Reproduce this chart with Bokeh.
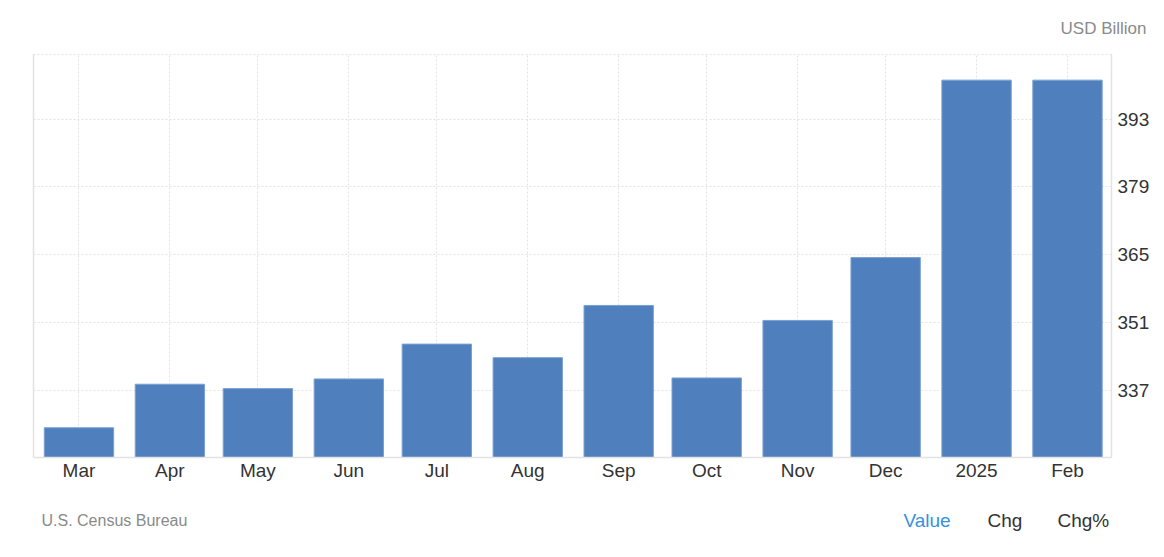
import pandas as pd

from bokeh.plotting import figure
from bokeh.layouts import column
from bokeh.models import ColumnDataSource, Range1d, FixedTicker, LinearAxis, Title
from bokeh.core.properties import value
from bokeh.embed import file_html
from bokeh.resources import INLINE


# monthly values, USD Billion (Mar 2024 - Feb 2025)
months = ["2024-03-01", "2024-04-01", "2024-05-01", "2024-06-01", "2024-07-01", "2024-08-01",
          "2024-09-01", "2024-10-01", "2024-11-01", "2024-12-01", "2025-01-01", "2025-02-01"]
values = [329.2, 338.2, 337.3, 339.3, 346.5, 343.7, 354.5, 339.5, 351.4, 364.4, 401.1, 401.1]
month_labels = ["Mar", "Apr", "May", "Jun", "Jul", "Aug", "Sep", "Oct", "Nov", "Dec", "2025", "Feb"]
y_ticks = [337, 351, 365, 379, 393]

footer_texts = ["U.S. Census Bureau", "Value", "Chg", "Chg%"]
footer_colors = ["#8a8a8a", "#3592df", "#333333", "#333333"]
footer_sizes = ["16px", "19px", "19px", "19px"]

FONT = "Liberation Sans"
DAY = 86400000.0
GRID = "#e2e2e2"
W = 1156
LEFT, FW = 33, 1078

dates = pd.to_datetime(months)
ms = [d.timestamp() * 1000.0 for d in dates]
source = ColumnDataSource(data={'date': dates, 'value': values})

p = figure(x_axis_type="datetime", y_axis_location="right",
           frame_width=FW, frame_height=403,
           min_border_left=LEFT, min_border_right=W - LEFT - FW, min_border_top=54, min_border_bottom=40,
           x_range=Range1d(ms[0] - 15.5 * DAY, ms[-1] + 15 * DAY),
           y_range=Range1d(323.05, 406.4),
           toolbar_location=None, output_backend="svg")

p.vbar(x='date', top='value', width=23.65 * DAY, source=source,
       fill_color="#4f80bd", line_color="#7aa1d3", line_width=1)

# frame / grid
p.background_fill_color = "white"
p.border_fill_color = "white"
p.outline_line_color = GRID
p.outline_line_dash = "2 2"
p.grid.grid_line_color = GRID
p.grid.grid_line_dash = "2 2"

# x axis
p.xaxis.ticker = FixedTicker(ticks=ms)
p.xaxis.major_label_overrides = {t: lab for t, lab in zip(ms, month_labels)}
p.xaxis.axis_line_color = GRID
p.xaxis.axis_line_width = 1.5
p.xaxis.major_tick_out = 0
p.xaxis.major_tick_line_color = None
p.xaxis.minor_tick_line_color = None
p.xaxis.major_label_standoff = 2
p.xaxis.major_label_text_font = FONT
p.xaxis.major_label_text_font_size = "19px"
p.xaxis.major_label_text_color = "#333333"

# y axis (right)
p.yaxis.ticker = FixedTicker(ticks=y_ticks)
p.yaxis.axis_line_color = GRID
p.yaxis.axis_line_width = 1.5
p.yaxis.major_tick_out = 0
p.yaxis.major_tick_line_color = None
p.yaxis.minor_tick_line_color = None
p.yaxis.major_label_standoff = 6
p.yaxis.major_label_text_font = FONT
p.yaxis.major_label_text_font_size = "19px"
p.yaxis.major_label_text_color = "#333333"

# plain left border line
left = LinearAxis(ticker=FixedTicker(ticks=[]), axis_line_color=GRID, axis_line_width=1.5,
                  major_tick_out=0, major_tick_line_color=None, minor_tick_line_color=None,
                  major_label_text_font_size="0px")
p.add_layout(left, "left")

# unit title, top right
p.add_layout(Title(text="USD Billion", align="right", offset=-35, standoff=33,
                   text_font=FONT, text_font_size="17px", text_font_style="normal",
                   text_color="#8a8a8a"), "above")

# footer strip: source on the left, value/chg switches on the right
# (column() lines its frame up with the chart frame, so x here is page px)
f = figure(width=W, height=56, frame_width=FW, frame_height=56,
           min_border_left=LEFT, min_border_right=W - LEFT - FW, min_border_top=0, min_border_bottom=0,
           x_range=Range1d(LEFT, LEFT + FW), y_range=Range1d(0, 56),
           toolbar_location=None, output_backend="svg")
f.axis.visible = False
f.grid.visible = False
f.outline_line_color = None
f.background_fill_color = "white"
f.border_fill_color = "white"
fsrc = ColumnDataSource(data={'x': [41, 903, 987, 1057], 'y': [33, 33, 33, 33],
                              'text': footer_texts, 'color': footer_colors, 'size': footer_sizes})
f.text(x='x', y='y', text='text', text_color='color', text_font_size='size',
       text_font=value(FONT), text_baseline="alphabetic", source=fsrc)

layout = column(p, f, spacing=0)
open("out.html", "w").write(file_html(layout, INLINE))
